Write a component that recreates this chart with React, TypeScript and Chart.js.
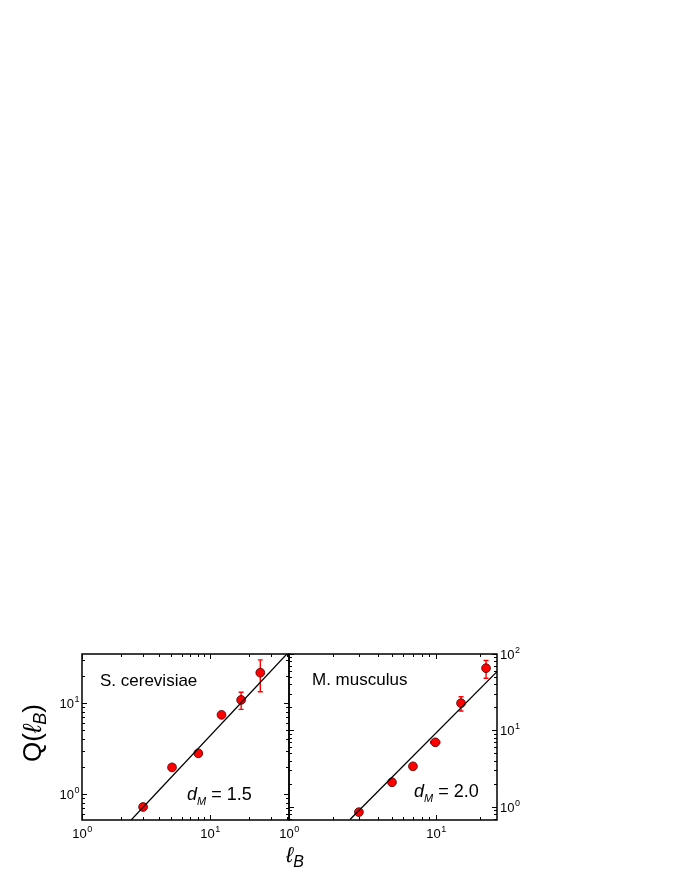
import React, { useEffect, useRef } from "react";
import { Chart, registerables } from "chart.js";
Chart.register(...registerables);

const FONT = '"Liberation Sans", Arial, sans-serif';

// ---- S. cerevisiae (left panel) ----
const scX = [3.0, 5.05, 8.1, 12.3, 17.5, 24.7];
const scY = [0.72, 1.96, 2.8, 7.4, 10.8, 21.5];
const scXErr = [0, 0, 0.5, 0, 0, 0];
const scYErr = [0, 0, 0, 0, 2.3, 8.2];
const scFitX = [2.3, 41];
const scFitY = [0.48, 36];

// ---- M. musculus (right panel) ----
const mmX = [2.99, 5.02, 6.97, 9.9, 14.8, 21.9];
const mmY = [0.85, 2.09, 3.38, 6.98, 22.7, 65.2];
const mmXErr = [0, 0, 0, 0.7, 0, 0];
const mmYErr = [0, 0, 0, 0.5, 4.8, 17];
const mmFitX = [2.6, 26];
const mmFitY = [0.68, 58.7];

// ---- axes ----
const leftXRange = [1, 41.4];
const leftYRange = [0.518, 34.5];
const rightXRange = [1, 26];
const rightYRange = [0.67, 100];

const leftXTicks = [1, 2, 3, 4, 5, 6, 7, 8, 9, 10, 20, 30, 40];
const rightXTicks = [1, 2, 3, 4, 5, 6, 7, 8, 9, 10, 20];
const leftYTicks = [0.6, 0.7, 0.8, 0.9, 1, 2, 3, 4, 5, 6, 7, 8, 9, 10, 20, 30];
const rightYTicks = [0.7, 0.8, 0.9, 1, 2, 3, 4, 5, 6, 7, 8, 9, 10, 20, 30, 40, 50, 60, 70, 80, 90, 100];
const leftXLabels = [1, 10];
const rightXLabels = [1, 10];
const leftYLabels = [1, 10];
const rightYLabels = [1, 10, 100];

const speciesLeft = "S. cerevisiae";
const speciesRight = "M. musculus";
const dimLeft = "1.5";
const dimRight = "2.0";

type PanelCfg = {
  xs: number[]; ys: number[]; xe: number[]; ye: number[];
  fx: number[]; fy: number[];
  xr: number[]; yr: number[];
  xt: number[]; yt: number[];
  xl: number[]; yl: number[]; ySide: "left" | "right";
  pad: { left: number; right: number; top: number; bottom: number };
  width: number; height: number;
  species: string; speciesPos: [number, number];
  dim: string; dimPos: [number, number];
  yTitle?: [number, number];
  xTitle?: [number, number];
};

function drawPow(ctx: CanvasRenderingContext2D, v: number, x: number, y: number, align: string) {
  const exp = String(Math.round(Math.log10(v)));
  ctx.font = `13px ${FONT}`;
  const w1 = ctx.measureText("10").width;
  ctx.font = `9px ${FONT}`;
  const w2 = ctx.measureText(exp).width;
  const tot = w1 + w2;
  let x0 = x;
  if (align === "center") x0 = x - tot / 2;
  else if (align === "right") x0 = x - tot;
  ctx.textAlign = "left";
  ctx.textBaseline = "alphabetic";
  ctx.font = `13px ${FONT}`;
  ctx.fillText("10", x0, y);
  ctx.font = `9px ${FONT}`;
  ctx.fillText(exp, x0 + w1 + 0.5, y - 6);
}

function drawSeq(ctx: CanvasRenderingContext2D, parts: [string, string, number][], x: number, y: number) {
  let cx = x;
  for (const [t, f, dy] of parts) {
    ctx.font = f;
    ctx.fillText(t, cx, y + dy);
    cx += ctx.measureText(t).width;
  }
  return cx - x;
}

function measureSeq(ctx: CanvasRenderingContext2D, parts: [string, string, number][]) {
  let w = 0;
  for (const [t, f] of parts) { ctx.font = f; w += ctx.measureText(t).width; }
  return w;
}

function makePlugin(c: PanelCfg) {
  return {
    id: "panelDeco",
    beforeDatasetsDraw(chart: any) {
      const { ctx, chartArea: a, scales } = chart;
      const sx = scales.x, sy = scales.y;
      ctx.save();
      ctx.beginPath();
      ctx.rect(a.left, a.top, a.right - a.left, a.bottom - a.top);
      ctx.clip();
      ctx.strokeStyle = "#ff0000";
      ctx.lineWidth = 1.4;
      for (let i = 0; i < c.xs.length; i++) {
        const px = sx.getPixelForValue(c.xs[i]);
        const py = sy.getPixelForValue(c.ys[i]);
        if (c.ye[i] > 0) {
          const t = sy.getPixelForValue(c.ys[i] + c.ye[i]);
          const b = sy.getPixelForValue(c.ys[i] - c.ye[i]);
          ctx.beginPath();
          ctx.moveTo(px, t); ctx.lineTo(px, b);
          ctx.moveTo(px - 2.5, t); ctx.lineTo(px + 2.5, t);
          ctx.moveTo(px - 2.5, b); ctx.lineTo(px + 2.5, b);
          ctx.stroke();
        }
        if (c.xe[i] > 0) {
          const l = sx.getPixelForValue(c.xs[i] - c.xe[i]);
          const r = sx.getPixelForValue(c.xs[i] + c.xe[i]);
          ctx.beginPath();
          ctx.moveTo(l, py); ctx.lineTo(r, py);
          ctx.moveTo(l, py - 1.5); ctx.lineTo(l, py + 1.5);
          ctx.moveTo(r, py - 1.5); ctx.lineTo(r, py + 1.5);
          ctx.stroke();
        }
      }
      ctx.restore();
    },
    afterDraw(chart: any) {
      const { ctx, chartArea: a, scales } = chart;
      const sx = scales.x, sy = scales.y;
      ctx.save();
      ctx.strokeStyle = "#000";
      ctx.fillStyle = "#000";
      ctx.lineWidth = 1.5;
      ctx.strokeRect(a.left, a.top, a.right - a.left, a.bottom - a.top);
      ctx.lineWidth = 1;
      const isMajor = (v: number) => Math.abs(Math.log10(v) - Math.round(Math.log10(v))) < 1e-6;
      ctx.beginPath();
      for (const v of c.xt) {
        const p = Math.round(sx.getPixelForValue(v)) + 0.5;
        if (p < a.left - 0.5 || p > a.right + 0.5) continue;
        const len = isMajor(v) ? 5 : 3;
        ctx.moveTo(p, a.bottom); ctx.lineTo(p, a.bottom - len);
        ctx.moveTo(p, a.top); ctx.lineTo(p, a.top + len);
      }
      for (const v of c.yt) {
        const p = Math.round(sy.getPixelForValue(v)) + 0.5;
        if (p < a.top - 0.5 || p > a.bottom + 0.5) continue;
        const len = isMajor(v) ? 5 : 3;
        ctx.moveTo(a.left, p); ctx.lineTo(a.left + len, p);
        ctx.moveTo(a.right, p); ctx.lineTo(a.right - len, p);
      }
      ctx.stroke();

      for (const v of c.xl) {
        drawPow(ctx, v, sx.getPixelForValue(v), a.bottom + 18, "center");
      }
      for (const v of c.yl) {
        const p = sy.getPixelForValue(v);
        if (c.ySide === "left") drawPow(ctx, v, a.left - 3, p + 5, "right");
        else drawPow(ctx, v, a.right + 3, p + 5, "left");
      }

      ctx.textAlign = "left";
      ctx.textBaseline = "alphabetic";
      ctx.font = `17px ${FONT}`;
      ctx.fillText(c.species, c.speciesPos[0], c.speciesPos[1]);

      drawSeq(ctx, [
        ["d", `italic 18px ${FONT}`, 0],
        ["M", `italic 11px ${FONT}`, 5],
        [" = " + c.dim, `18px ${FONT}`, 0],
      ], c.dimPos[0], c.dimPos[1]);

      if (c.yTitle) {
        const parts: [string, string, number][] = [
          ["Q", `26px ${FONT}`, 0],
          ["(", `26px ${FONT}`, 0],
          ["\u2113", `italic 26px ${FONT}`, 0],
          ["B", `italic 18px ${FONT}`, 5],
          [")", `26px ${FONT}`, 0],
        ];
        ctx.save();
        ctx.translate(c.yTitle[0], c.yTitle[1]);
        ctx.rotate(-Math.PI / 2);
        const w = measureSeq(ctx, parts);
        drawSeq(ctx, parts, -w / 2, 0);
        ctx.restore();
      }
      if (c.xTitle) {
        const parts: [string, string, number][] = [
          ["\u2113", `italic 22px ${FONT}`, 0],
          ["B", `italic 16px ${FONT}`, 5],
        ];
        const w = measureSeq(ctx, parts);
        drawSeq(ctx, parts, c.xTitle[0] - w / 2, c.xTitle[1]);
      }
      ctx.restore();
    },
  };
}

function Panel({ cfg, left, top }: { cfg: PanelCfg; left: number; top: number }) {
  const ref = useRef<HTMLCanvasElement>(null);
  useEffect(() => {
    const c = cfg;
    const chart = new Chart(ref.current!, {
      type: "scatter",
      data: {
        datasets: [
          {
            data: c.fx.map((x, i) => ({ x, y: c.fy[i] })),
            showLine: true,
            borderColor: "#000",
            borderWidth: 1.3,
            pointRadius: 0,
            order: 0,
          },
          {
            data: c.xs.map((x, i) => ({ x, y: c.ys[i] })),
            pointRadius: 4.4,
            backgroundColor: "#ff0000",
            borderColor: "#4a0000",
            borderWidth: 0.8,
            order: 1,
          },
        ],
      } as any,
      options: {
        responsive: false,
        animation: false,
        layout: { padding: c.pad },
        plugins: { legend: { display: false }, tooltip: { enabled: false } },
        scales: {
          x: { type: "logarithmic", display: false, min: c.xr[0], max: c.xr[1] },
          y: { type: "logarithmic", display: false, min: c.yr[0], max: c.yr[1] },
        },
      } as any,
      plugins: [makePlugin(c) as any],
    });
    return () => chart.destroy();
  }, []);
  return (
    <canvas
      ref={ref}
      width={cfg.width}
      height={cfg.height}
      style={{ position: "absolute", left, top, width: cfg.width, height: cfg.height }}
    />
  );
}

const leftCfg: PanelCfg = {
  xs: scX, ys: scY, xe: scXErr, ye: scYErr, fx: scFitX, fy: scFitY,
  xr: leftXRange, yr: leftYRange, xt: leftXTicks, yt: leftYTicks,
  xl: leftXLabels, yl: leftYLabels, ySide: "left",
  pad: { left: 82, right: 11, top: 54, bottom: 76 },
  width: 300, height: 296,
  species: speciesLeft, speciesPos: [100, 86],
  dim: dimLeft, dimPos: [187, 200],
  yTitle: [41, 133],
};

const rightCfg: PanelCfg = {
  xs: mmX, ys: mmY, xe: mmXErr, ye: mmYErr, fx: mmFitX, fy: mmFitY,
  xr: rightXRange, yr: rightYRange, xt: rightXTicks, yt: rightYTicks,
  xl: rightXLabels, yl: rightYLabels, ySide: "right",
  pad: { left: 9, right: 195, top: 54, bottom: 76 },
  width: 412, height: 296,
  species: speciesRight, speciesPos: [32, 85],
  dim: dimRight, dimPos: [134, 197],
  xTitle: [15, 262],
};

export default function App() {
  return (
    <div style={{ position: "absolute", left: 0, top: 0, width: 692, height: 896, background: "#fff" }}>
      <Panel cfg={leftCfg} left={0} top={600} />
      <Panel cfg={rightCfg} left={280} top={600} />
    </div>
  );
}
